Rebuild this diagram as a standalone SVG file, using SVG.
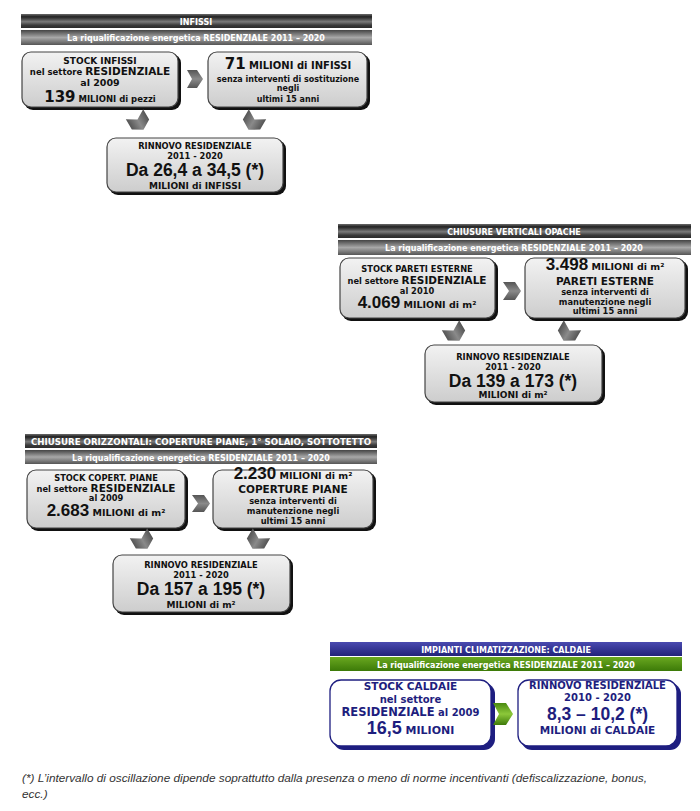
<svg xmlns="http://www.w3.org/2000/svg" width="700" height="811" viewBox="0 0 700 811">
<defs>
<linearGradient id="metal1" x1="0" y1="0" x2="0" y2="1">
<stop offset="0" stop-color="#6a6a6a"/><stop offset="0.2" stop-color="#222"/><stop offset="0.55" stop-color="#7a7a7a"/><stop offset="0.8" stop-color="#3a3a3a"/><stop offset="1" stop-color="#2a2a2a"/>
</linearGradient>
<linearGradient id="metal2" x1="0" y1="0" x2="0" y2="1">
<stop offset="0" stop-color="#444"/><stop offset="0.5" stop-color="#a8a8a8"/><stop offset="1" stop-color="#555"/>
</linearGradient>
<linearGradient id="boxg" x1="0" y1="0" x2="0" y2="1">
<stop offset="0" stop-color="#f2f2f2"/><stop offset="1" stop-color="#cdcdcd"/>
</linearGradient>
<linearGradient id="chev" x1="0" y1="0" x2="0" y2="1">
<stop offset="0" stop-color="#555"/><stop offset="0.5" stop-color="#8a8a8a"/><stop offset="1" stop-color="#555"/>
</linearGradient>
<linearGradient id="blue" x1="0" y1="0" x2="0" y2="1">
<stop offset="0" stop-color="#4a4ab0"/><stop offset="1" stop-color="#22227a"/>
</linearGradient>
<linearGradient id="green" x1="0" y1="0" x2="0" y2="1">
<stop offset="0" stop-color="#6aa820"/><stop offset="1" stop-color="#3c7a08"/>
</linearGradient>
<linearGradient id="gchev" x1="0" y1="0" x2="0" y2="1">
<stop offset="0" stop-color="#4a8a10"/><stop offset="0.5" stop-color="#8cc83a"/><stop offset="1" stop-color="#3e7a0a"/>
</linearGradient>
<polygon id="dchev" points="-9,-10 3,-10 9,0 3,10 -9,10 -3,0"/>
</defs>
<style>
.t{font-family:"DejaVu Sans",Verdana,sans-serif;font-weight:bold;text-anchor:middle;fill:#111}
.n{font-family:"Liberation Sans",Arial,sans-serif;font-weight:bold}
.hd{fill:#fff;font-size:8px}
.bx{fill:url(#boxg);stroke:#444;stroke-width:1.2}
.sh{fill:#111}
.bxb{fill:#fff;stroke:#1e1e80;stroke-width:1.3}
.shb{fill:#1e1e80}
.tb{fill:#1e1e7e}
.ch{fill:url(#chev)}
.foot{font-family:"Liberation Sans",Arial,sans-serif;font-style:italic;font-size:11.8px;fill:#333}
</style>

<!-- Panel 1 -->
<g id="panel1-header">
<rect x="21" y="14" width="351" height="14" fill="url(#metal1)"/>
<rect x="21" y="30" width="351" height="15" fill="url(#metal2)"/>
<text class="t hd" x="196" y="24.5">INFISSI</text>
<text class="t hd" x="196" y="41">La riqualificazione energetica RESIDENZIALE 2011 – 2020</text>
</g>
<g id="p1-stock">
<rect class="sh" x="24" y="54" width="157" height="56" rx="9"/>
<rect class="bx" x="22" y="52" width="156" height="55" rx="9"/>
<text class="t" x="100" y="63.5" font-size="9">STOCK INFISSI</text>
<text class="t" x="100" y="74.5"><tspan font-size="8.5">nel settore </tspan><tspan font-size="10.5">RESIDENZIALE</tspan></text>
<text class="t" x="100" y="85.5" font-size="9.5">al 2009</text>
<text class="t" x="100" y="102"><tspan font-size="15">139</tspan><tspan font-size="8.5"> MILIONI di pezzi</tspan></text>
</g>
<g id="p1-nointerv">
<rect class="sh" x="210" y="54" width="160" height="56" rx="9"/>
<rect class="bx" x="208" y="52" width="159" height="55" rx="9"/>
<text class="t" x="288" y="68.5"><tspan font-size="15">71</tspan><tspan font-size="10"> MILIONI di INFISSI</tspan></text>
<text class="t" x="288" y="81.5" font-size="8">senza interventi di sostituzione</text>
<text class="t" x="288" y="91" font-size="8">negli</text>
<text class="t" x="288" y="102" font-size="8">ultimi 15 anni</text>
</g>
<g id="p1-rinnovo">
<rect class="sh" x="109" y="140" width="177" height="55" rx="9"/>
<rect class="bx" x="107" y="138" width="176" height="54" rx="9"/>
<text class="t" x="195" y="148.5" font-size="8.3">RINNOVO RESIDENZIALE</text>
<text class="t" x="195" y="158.5" font-size="8.3">2011 - 2020</text>
<text class="t n" x="195" y="176" font-size="17.5">Da 26,4 a 34,5 (*)</text>
<text class="t" x="195" y="188.5" font-size="9">MILIONI di INFISSI</text>
</g>

<!-- Panel 2 -->
<g id="panel2-header">
<rect x="338" y="224" width="353" height="14" fill="url(#metal1)"/>
<rect x="338" y="240" width="353" height="15" fill="url(#metal2)"/>
<text class="t hd" x="514" y="234.5">CHIUSURE VERTICALI OPACHE</text>
<text class="t hd" x="514" y="251">La riqualificazione energetica RESIDENZIALE 2011 – 2020</text>
</g>
<g id="p2-stock">
<rect class="sh" x="342" y="260" width="156" height="61" rx="9"/>
<rect class="bx" x="340" y="258" width="155" height="60" rx="9"/>
<text class="t" x="417" y="271.5" font-size="8.3">STOCK PARETI ESTERNE</text>
<text class="t" x="417" y="284"><tspan font-size="8.3">nel settore </tspan><tspan font-size="10.5">RESIDENZIALE</tspan></text>
<text class="t" x="417" y="293.5" font-size="8.3">al 2010</text>
<text class="t" x="417" y="308"><tspan class="n" font-size="17">4.069</tspan><tspan font-size="9.5"> MILIONI di m²</tspan></text>
</g>
<g id="p2-nointerv">
<rect class="sh" x="527" y="260" width="161" height="61" rx="9"/>
<rect class="bx" x="525" y="258" width="160" height="60" rx="9"/>
<text class="t" x="605" y="270"><tspan class="n" font-size="17">3.498</tspan><tspan font-size="9.5"> MILIONI di m²</tspan></text>
<text class="t" x="605" y="284.5" font-size="10.5">PARETI ESTERNE</text>
<text class="t" x="605" y="295" font-size="8.3">senza interventi di</text>
<text class="t" x="605" y="305" font-size="8.3">manutenzione negli</text>
<text class="t" x="605" y="314" font-size="8.3">ultimi 15 anni</text>
</g>
<g id="p2-rinnovo">
<rect class="sh" x="427" y="347" width="178" height="58" rx="9"/>
<rect class="bx" x="425" y="345" width="177" height="57" rx="9"/>
<text class="t" x="513" y="359.5" font-size="8.3">RINNOVO RESIDENZIALE</text>
<text class="t" x="513" y="369.5" font-size="8.3">2011 - 2020</text>
<text class="t n" x="513" y="386.5" font-size="17.5">Da 139 a 173 (*)</text>
<text class="t" x="513" y="398" font-size="9">MILIONI di m²</text>
</g>

<!-- Panel 3 -->
<g id="panel3-header">
<rect x="25" y="434" width="352" height="14" fill="url(#metal1)"/>
<rect x="25" y="450" width="352" height="14" fill="url(#metal2)"/>
<text class="t hd" x="201" y="444.5" font-size="7.6" textLength="340" lengthAdjust="spacingAndGlyphs">CHIUSURE ORIZZONTALI: COPERTURE PIANE, 1° SOLAIO, SOTTOTETTO</text>
<text class="t hd" x="201" y="460.5">La riqualificazione energetica RESIDENZIALE 2011 – 2020</text>
</g>
<g id="p3-stock">
<rect class="sh" x="29" y="472" width="159" height="59" rx="9"/>
<rect class="bx" x="27" y="470" width="158" height="58" rx="9"/>
<text class="t" x="106" y="480.5" font-size="8.3">STOCK COPERT. PIANE</text>
<text class="t" x="106" y="492"><tspan font-size="8.3">nel settore </tspan><tspan font-size="10.5">RESIDENZIALE</tspan></text>
<text class="t" x="106" y="501" font-size="8.3">al 2009</text>
<text class="t" x="106" y="516"><tspan class="n" font-size="17">2.683</tspan><tspan font-size="9.5"> MILIONI di m²</tspan></text>
</g>
<g id="p3-nointerv">
<rect class="sh" x="215" y="472" width="161" height="59" rx="9"/>
<rect class="bx" x="213" y="470" width="160" height="58" rx="9"/>
<text class="t" x="293" y="478.5"><tspan class="n" font-size="17">2.230</tspan><tspan font-size="9.5"> MILIONI di m²</tspan></text>
<text class="t" x="293" y="492.5" font-size="10.5">COPERTURE PIANE</text>
<text class="t" x="293" y="503.5" font-size="8.3">senza interventi di</text>
<text class="t" x="293" y="513.5" font-size="8.3">manutenzione negli</text>
<text class="t" x="293" y="523.5" font-size="8.3">ultimi 15 anni</text>
</g>
<g id="p3-rinnovo">
<rect class="sh" x="115" y="557" width="178" height="58" rx="9"/>
<rect class="bx" x="113" y="555" width="177" height="57" rx="9"/>
<text class="t" x="201" y="567.5" font-size="8.3">RINNOVO RESIDENZIALE</text>
<text class="t" x="201" y="577.5" font-size="8.3">2011 - 2020</text>
<text class="t n" x="201" y="595" font-size="17.5">Da 157 a 195 (*)</text>
<text class="t" x="201" y="607.5" font-size="9">MILIONI di m²</text>
</g>

<!-- Panel 4 -->
<g id="panel4-header">
<rect x="330" y="642" width="352" height="14" fill="url(#blue)"/>
<rect x="330" y="657" width="352" height="14" fill="url(#green)"/>
<text class="t hd" x="506" y="652.5">IMPIANTI CLIMATIZZAZIONE: CALDAIE</text>
<text class="t hd" x="506" y="667.5">La riqualificazione energetica RESIDENZIALE 2011 – 2020</text>
</g>
<g id="p4-stock">
<rect class="shb" x="333" y="683" width="162" height="67" rx="11"/>
<rect class="bxb" x="330" y="680" width="161" height="66" rx="11"/>
<text class="t tb" x="410.5" y="689.5" font-size="10.5">STOCK CALDAIE</text>
<text class="t tb" x="410.5" y="702.5" font-size="10">nel settore</text>
<text class="t tb" x="410.5" y="715.5"><tspan font-size="11.5">RESIDENZIALE</tspan><tspan font-size="10"> al 2009</tspan></text>
<text class="t tb" x="410.5" y="734"><tspan class="n" font-size="18">16,5</tspan><tspan font-size="11"> MILIONI</tspan></text>
</g>
<g id="p4-rinnovo">
<rect class="shb" x="521" y="683" width="160" height="67" rx="11"/>
<rect class="bxb" x="518" y="680" width="159" height="66" rx="11"/>
<text class="t tb" x="597.5" y="689" font-size="10">RINNOVO RESIDENZIALE</text>
<text class="t tb" x="597.5" y="701" font-size="10">2010 - 2020</text>
<text class="t tb n" x="597.5" y="719.5" font-size="17.5">8,3 – 10,2 (*)</text>
<text class="t tb" x="597.5" y="734" font-size="10.5">MILIONI di CALDAIE</text>
</g>

<!-- Connectors -->
<g id="connectors">
<polygon class="ch" points="187,70 197,70 203,79 197,88 187,88 192,79"/>
<use href="#dchev" class="ch" transform="translate(139,122) rotate(60)"/>
<use href="#dchev" class="ch" transform="translate(253,122) rotate(120)"/>
<polygon class="ch" points="503,282 515,282 521,291 515,300 503,300 509,291"/>
<use href="#dchev" class="ch" transform="translate(455,333) rotate(60)"/>
<use href="#dchev" class="ch" transform="translate(568,333) rotate(120)"/>
<polygon class="ch" points="192,495 204,495 210,503.5 204,512 192,512 198,503.5"/>
<use href="#dchev" class="ch" transform="translate(143,541) rotate(60)"/>
<use href="#dchev" class="ch" transform="translate(257,541) rotate(120)"/>
<polygon fill="url(#gchev)" points="493,703 506,703 513,714 506,725 493,725 499,714"/>
</g>

<g id="footnote">
<text class="foot" x="22" y="782">(*) L’intervallo di oscillazione dipende soprattutto dalla presenza o meno di norme incentivanti (defiscalizzazione, bonus,</text>
<text class="foot" x="22" y="798">ecc.)</text>
</g>
</svg>
